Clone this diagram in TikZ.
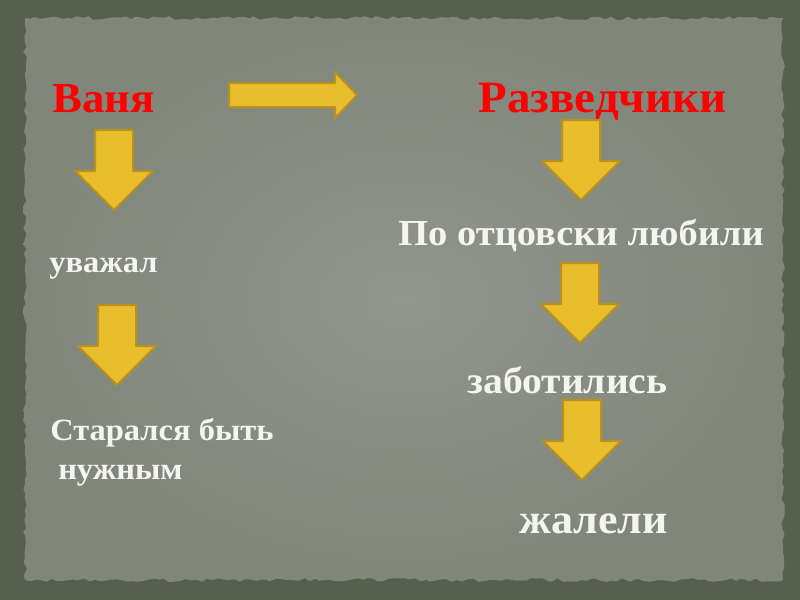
\documentclass[tikz,border=0pt]{standalone}
\usepackage{fontspec}
\setmainfont[FakeStretch=1.05]{Liberation Serif}
\usepackage{tikz}
\usetikzlibrary{decorations.pathmorphing}
\definecolor{slate}{HTML}{56604F}
\definecolor{paper}{HTML}{81867B}
\definecolor{paperlight}{HTML}{91958B}
\definecolor{gold}{HTML}{E9BD2B}
\definecolor{goldedge}{HTML}{B8921C}
\definecolor{chalk}{HTML}{F5F5F0}
\newcommand{\downblock}[2]{%
  \filldraw[block] (#1-19,#2) -- (#1+19,#2) -- (#1+19,#2+41) -- (#1+39,#2+41)
    -- (#1,#2+80) -- (#1-39,#2+41) -- (#1-19,#2+41) -- cycle;}

\begin{document}
\begin{tikzpicture}[x=0.75pt, y=-0.75pt,
  block/.style={fill=gold, draw=goldedge, line width=1.5pt, line join=round},
  hero/.style={anchor=base west, inner sep=0pt, text=red, font=\bfseries\fontsize{#1}{#1}\selectfont},
  deed/.style={anchor=base west, inner sep=0pt, text=chalk, font=\bfseries\fontsize{#1}{#1}\selectfont}]
  \useasboundingbox (0,0) rectangle (800,600);
  \fill[slate] (0,0) rectangle (800,600);
  \shade[inner color=paperlight, outer color=paper, decorate,
    decoration={random steps, segment length=4pt, amplitude=1.4pt}]
    (25,18) -- (783,18) -- (783,580) -- (25,580) -- cycle;
  % names
  \node[hero=32] (vanya) at (52,112) {Ваня};
  \node[hero=33.6] (scouts) at (478,112) {Разведчики};
  % left column
  \node[deed=23.2] (respect) at (49,272) {уважал};
  \node[deed=23.2] (trying) at (50,440) {Старался быть};
  \node[deed=23.2] (needed) at (58,479) {нужным};
  % right column
  \node[deed=27.5] (fatherly) at (398,245) {По отцовски любили};
  \node[deed=28.3] (cared) at (467,393) {заботились};
  \node[deed=31.4] (pitied) at (519,533) {жалели};
  % block arrows
  \filldraw[block] (229,83) -- (335,83) -- (335,72) -- (357,95) -- (335,118)
    -- (335,107) -- (229,107) -- cycle;
  \foreach \cx/\ty in {114/130, 117/305, 581/120, 580/263, 582/400}{
    \downblock{\cx}{\ty}
  }
\end{tikzpicture}
\end{document}
